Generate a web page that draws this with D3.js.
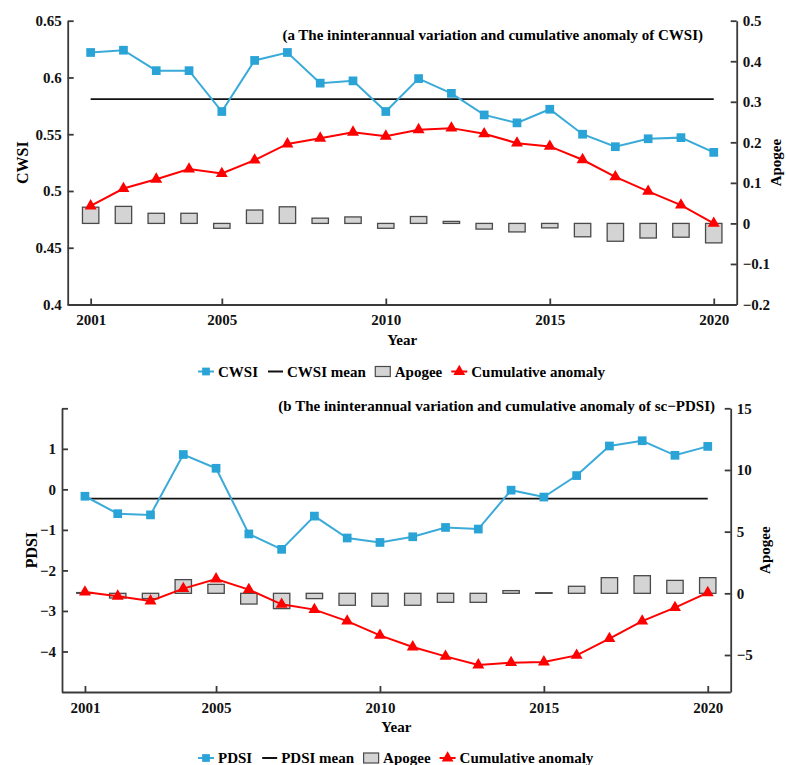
<!DOCTYPE html>
<html>
<head>
<meta charset="utf-8">
<script src="https://cdn.jsdelivr.net/npm/d3@7"></script>
<style>
  body { margin: 0; background: #fff; }
  svg { display: block; }
</style>
</head>
<body>
<div id="chart"></div>
<script>
// values
const years = [2001, 2002, 2003, 2004, 2005, 2006, 2007, 2008, 2009, 2010,
               2011, 2012, 2013, 2014, 2015, 2016, 2017, 2018, 2019, 2020];
const yearTicks = [2001, 2005, 2010, 2015, 2020];

const cwsiValues = [0.622, 0.624, 0.606, 0.606, 0.570, 0.615, 0.622, 0.595, 0.597, 0.570,
                    0.599, 0.586, 0.567, 0.560, 0.572, 0.550, 0.539, 0.546, 0.547, 0.534];
const cwsiMean = 0.581;
const cwsiApogee = [0.040, 0.042, 0.025, 0.025, -0.012, 0.033, 0.041, 0.013, 0.016, -0.012,
                    0.017, 0.005, -0.014, -0.021, -0.011, -0.033, -0.044, -0.036, -0.034, -0.048];
const cwsiCumulative = [0.043, 0.086, 0.109, 0.134, 0.123, 0.156, 0.196, 0.210, 0.225, 0.215,
                        0.231, 0.235, 0.221, 0.198, 0.190, 0.157, 0.115, 0.079, 0.045, 0.0];
const cwsiTicks = [0.4, 0.45, 0.5, 0.55, 0.6, 0.65];
const cwsiApogeeTicks = [-0.2, -0.1, 0, 0.1, 0.2, 0.3, 0.4, 0.5];

const pdsiValues = [-0.17, -0.60, -0.63, 0.86, 0.52, -1.10, -1.48, -0.66, -1.20, -1.31,
                    -1.17, -0.94, -0.98, -0.02, -0.19, 0.34, 1.07, 1.20, 0.84, 1.06];
const pdsiMean = -0.23;
const pdsiApogee = [0.06, -0.38, -0.43, 1.11, 0.73, -0.87, -1.24, -0.43, -0.97, -1.05,
                    -0.97, -0.73, -0.73, 0.22, 0.05, 0.57, 1.27, 1.43, 1.05, 1.27];
const pdsiCumulative = [0.10, -0.24, -0.62, 0.38, 1.16, 0.30, -0.89, -1.32, -2.25, -3.41,
                        -4.35, -5.11, -5.81, -5.62, -5.57, -5.03, -3.67, -2.25, -1.16, 0.05];
const pdsiTicks = [-4, -3, -2, -1, 0, 1, 2];
const pdsiApogeeTicks = [-5, 0, 5, 10, 15];

const FONT = "'Liberation Serif', 'Times New Roman', serif";
const BLUE = "#3aaad8", BLUE_MK = "#2aa3d6", RED = "#ff0000", AXIS = "#3a3a3a";

const svg = d3.select("#chart").append("svg")
  .attr("width", 786).attr("height", 765)
  .attr("font-family", FONT).attr("font-weight", "bold");

function fmt(v) {
  return (v < 0 ? "\u2212" : "") + Math.abs(v);
}

function drawPanel(p) {
  const g = svg.append("g");
  const x = d3.scaleLinear().domain([2000.3, 2020.7]).range([p.left, p.right]);
  const y = d3.scaleLinear().domain(p.yDomain).range([p.bottom, p.top]);
  const y2 = d3.scaleLinear().domain(p.y2Domain).range([p.bottom, p.top]);

  // axes: ticks point inward
  const ax = g.append("g").attr("transform", "translate(0," + p.bottom + ")")
    .call(d3.axisBottom(x).tickValues(yearTicks).tickFormat(d3.format("d"))
      .tickSizeInner(-6).tickSizeOuter(0).tickPadding(10));
  const ay = g.append("g").attr("transform", "translate(" + p.left + ",0)")
    .call(d3.axisLeft(y).tickValues(p.yTicks).tickFormat(d => p.yHide.includes(d) ? "" : fmt(d))
      .tickSizeInner(-6).tickSizeOuter(0).tickPadding(6));
  const ay2 = g.append("g").attr("transform", "translate(" + p.right + ",0)")
    .call(d3.axisRight(y2).tickValues(p.y2Ticks).tickFormat(fmt)
      .tickSizeInner(-6).tickSizeOuter(0).tickPadding(6));
  [ax, ay, ay2].forEach(a => {
    a.attr("font-family", FONT).attr("font-size", 15).attr("font-weight", "bold");
    a.selectAll("path, line").attr("stroke", AXIS).attr("stroke-width", 1.8);
    a.selectAll("text").attr("fill", "#111");
  });
  ax.select(".domain").attr("d", "M" + p.left + ",0.5H" + p.right);

  // apogee bars
  g.append("g").selectAll("rect").data(years).join("rect")
    .attr("x", d => x(d - 0.25))
    .attr("width", d => x(d + 0.25) - x(d - 0.25))
    .attr("y", (d, i) => y2(Math.max(0, p.apogee[i])))
    .attr("height", (d, i) => Math.abs(y2(p.apogee[i]) - y2(0)))
    .attr("fill", "#d4d4d4").attr("stroke", "#4a4a4a").attr("stroke-width", 1.3);

  // mean line
  g.append("line")
    .attr("x1", x(years[0])).attr("x2", x(years[years.length - 1]))
    .attr("y1", y(p.mean)).attr("y2", y(p.mean))
    .attr("stroke", "#111").attr("stroke-width", 1.8);

  // index series
  g.append("path").datum(p.values)
    .attr("fill", "none").attr("stroke", BLUE).attr("stroke-width", 2)
    .attr("d", d3.line().x((d, i) => x(years[i])).y(d => y(d)));
  g.append("g").selectAll("path").data(p.values).join("path")
    .attr("transform", (d, i) => "translate(" + x(years[i]) + "," + y(d) + ")")
    .attr("d", d3.symbol(d3.symbolSquare, 76))
    .attr("fill", BLUE_MK);

  // cumulative anomaly
  g.append("path").datum(p.cumulative)
    .attr("fill", "none").attr("stroke", RED).attr("stroke-width", 2)
    .attr("d", d3.line().x((d, i) => x(years[i])).y(d => y2(d)));
  g.append("g").selectAll("path").data(p.cumulative).join("path")
    .attr("transform", (d, i) => "translate(" + x(years[i]) + "," + y2(d) + ")")
    .attr("d", d3.symbol(d3.symbolTriangle, 62))
    .attr("fill", RED);

  // texts
  g.append("text").attr("x", p.titleX).attr("y", p.titleY)
    .attr("text-anchor", "end").attr("font-size", 15).text(p.title);
  g.append("text").attr("x", (p.left + p.right) / 2).attr("y", p.bottom + 40)
    .attr("text-anchor", "middle").attr("font-size", 15).text("Year");
  g.append("text").attr("transform", "translate(" + p.yLabelX + "," + (p.top + p.bottom) / 2 + ") rotate(-90)")
    .attr("text-anchor", "middle").attr("font-size", 16).text(p.name);
  g.append("text").attr("transform", "translate(" + p.y2LabelX + "," + (p.top + p.bottom) / 2 + ") rotate(-90)")
    .attr("text-anchor", "middle").attr("font-size", 15).text("Apogee");

  // legend
  const lg = g.append("g").attr("transform", "translate(198," + p.legendY + ")")
    .attr("font-size", 15);
  let cx = 0;
  const items = [p.name, p.name + " mean", "Apogee", "Cumulative anomaly"];
  items.forEach((label, k) => {
    const s = lg.append("g").attr("transform", "translate(" + cx + ",0)");
    if (k === 0) {
      s.append("line").attr("x1", 0).attr("x2", 16).attr("stroke", BLUE).attr("stroke-width", 2);
      s.append("path").attr("transform", "translate(8,0)").attr("d", d3.symbol(d3.symbolSquare, 60)).attr("fill", BLUE_MK);
    } else if (k === 1) {
      s.append("line").attr("x1", 1).attr("x2", 16).attr("stroke", "#111").attr("stroke-width", 2);
    } else if (k === 2) {
      s.append("rect").attr("x", 0.5).attr("y", -5).attr("width", 15).attr("height", 10)
        .attr("fill", "#d4d4d4").attr("stroke", "#4a4a4a").attr("stroke-width", 1.2);
    } else {
      s.append("line").attr("x1", 0).attr("x2", 16).attr("stroke", RED).attr("stroke-width", 2);
      s.append("path").attr("transform", "translate(8,0)").attr("d", d3.symbol(d3.symbolTriangle, 60)).attr("fill", RED);
    }
    const t = s.append("text").attr("x", 20).attr("y", 5).text(label);
    cx += 20 + t.node().getComputedTextLength() + 9;
  });
}

drawPanel({
  name: "CWSI", values: cwsiValues, mean: cwsiMean, apogee: cwsiApogee, cumulative: cwsiCumulative,
  yDomain: [0.4, 0.65], y2Domain: [-0.2, 0.5], yTicks: cwsiTicks, yHide: [], y2Ticks: cwsiApogeeTicks,
  left: 67.7, right: 736.7, top: 20.7, bottom: 304.5,
  title: "(a The ininterannual variation and cumulative anomaly of CWSI)", titleX: 703, titleY: 40,
  yLabelX: 28, y2LabelX: 781, legendY: 371.5
});

drawPanel({
  name: "PDSI", values: pdsiValues, mean: pdsiMean, apogee: pdsiApogee, cumulative: pdsiCumulative,
  yDomain: [-5, 2], y2Domain: [-8, 15], yTicks: pdsiTicks, yHide: [2], y2Ticks: pdsiApogeeTicks,
  left: 62, right: 730.7, top: 408.3, bottom: 692,
  title: "(b The ininterannual variation and cumulative anomaly of sc\u2212PDSI)", titleX: 715, titleY: 411,
  yLabelX: 36.5, y2LabelX: 770, legendY: 758
});
</script>
</body>
</html>
